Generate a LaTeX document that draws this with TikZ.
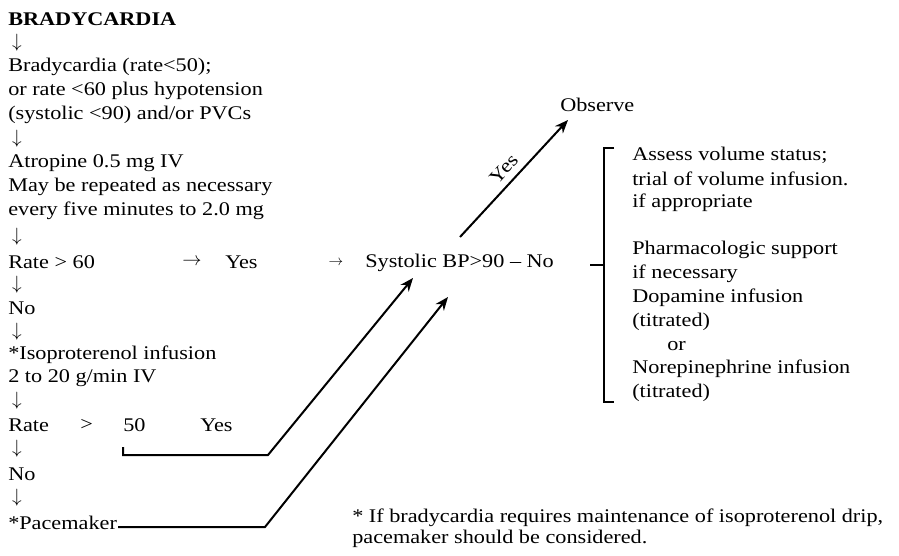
\documentclass[tikz,border=0pt]{standalone}
\usepackage{fontspec}
\setmainfont{Liberation Serif}[FakeStretch=1.15]
\usetikzlibrary{arrows.meta}
\begin{document}
\begin{tikzpicture}[x=0.75pt,y=-0.75pt,
  txt/.style={anchor=west,inner sep=0pt,font=\fontsize{14.5}{18}\selectfont},
  dn/.style={anchor=center,inner sep=0pt,font=\fontsize{14}{16}\selectfont},
  link/.style={line width=1.5pt,-{Stealth[length=10pt,width=8pt]}},
  brk/.style={line width=1.4pt},
  ]
\useasboundingbox (0,0) rectangle (899,556);
% left column
\node[txt,font=\fontsize{14.5}{18}\selectfont\bfseries] (t0) at (8,19) {BRADYCARDIA};
\node[dn] (a1) at (17,43) {$\downarrow$};
\node[txt] (t2) at (8,67) {Bradycardia (rate<50);};
\node[txt] (t3) at (8,91) {or rate <60 plus hypotension};
\node[txt] (t4) at (8,115) {(systolic <90) and/or PVCs};
\node[dn] (a5) at (17,139) {$\downarrow$};
\node[txt] (t6) at (8,163) {Atropine 0.5 mg IV};
\node[txt] (t7) at (8,187) {May be repeated as necessary};
\node[txt] (t8) at (8,211) {every five minutes to 2.0 mg};
\node[dn] (a9) at (17,237) {$\downarrow$};
\node[txt] (t10) at (8,262) {Rate > 60};
\node[dn,font=\fontsize{15}{16}\selectfont] (r1) at (192,262) {$\rightarrow$};
\node[txt] (y1) at (225,262) {Yes};
\node[dn,font=\fontsize{11}{12}\selectfont] (r2) at (336,263) {$\rightarrow$};
\node[txt] (sbp) at (365,263) {Systolic BP>90 – No};
\node[dn] (a11) at (17,285) {$\downarrow$};
\node[txt] (t12) at (8,308) {No};
\node[dn] (a13) at (17,332) {$\downarrow$};
\node[txt] (t14) at (8,355) {*Isoproterenol infusion};
\node[txt] (t15) at (8,378) {2 to 20 g/min IV};
\node[dn] (a16) at (17,401) {$\downarrow$};
\node[txt] (rate) at (8,425) {Rate};
\node[txt] (gt) at (80,425) {>};
\node[txt] (fifty) at (123,425) {50};
\node[txt] (y2) at (200,425) {Yes};
\node[dn] (a18) at (17,449) {$\downarrow$};
\node[txt] (t19) at (8,474) {No};
\node[dn] (a20) at (17,498) {$\downarrow$};
\node[txt] (pace) at (8,523) {*Pacemaker};
% right part
\node[txt] (obs) at (560,105) {Observe};
\node[txt] (b1) at (632,155) {Assess volume status;};
\node[txt] (b2) at (632,179) {trial of volume infusion.};
\node[txt] (b3) at (632,203) {if appropriate};
\node[txt] (b4) at (632,250) {Pharmacologic support};
\node[txt] (b5) at (632,274) {if necessary};
\node[txt] (b6) at (632,298) {Dopamine infusion};
\node[txt] (b7) at (632,322) {(titrated)};
\node[txt] (b8) at (667,346) {or};
\node[txt] (b9) at (632,369) {Norepinephrine infusion};
\node[txt] (b10) at (632,393) {(titrated)};
% footnote
\node[txt] (f1) at (352,518) {* If bradycardia requires maintenance of isoproterenol drip,};
\node[txt] (f2) at (352,539) {pacemaker should be considered.};
% coordinates
\coordinate (k1) at (123,447);
\coordinate (k2) at (123,455);
\coordinate (k3) at (268,455);
\coordinate (tipA) at (413,278);
\coordinate (p1) at (118,527);
\coordinate (p2) at (265,527);
\coordinate (tipB) at (448,297);
\coordinate (ys) at (460,237);
\coordinate (ye) at (568,120);
\coordinate (bt) at (614,148);
\coordinate (bv) at (604,265);
\coordinate (bb) at (614,402);
\coordinate (bm) at (590,265);
% connectors
\draw[link] (k1) -- (k2) -- (k3) -- (tipA);
\draw[link] (p1) -- (p2) -- (tipB);
\draw[link] (ys) -- node[midway,above=5pt,sloped,inner sep=0pt,font=\fontsize{14.5}{18}\selectfont]{Yes} (ye);
\draw[brk] (bt) -- (bt -| bv) -- (bb -| bv) -- (bb);
\draw[brk] (bm) -- (bv);
\end{tikzpicture}
\end{document}
